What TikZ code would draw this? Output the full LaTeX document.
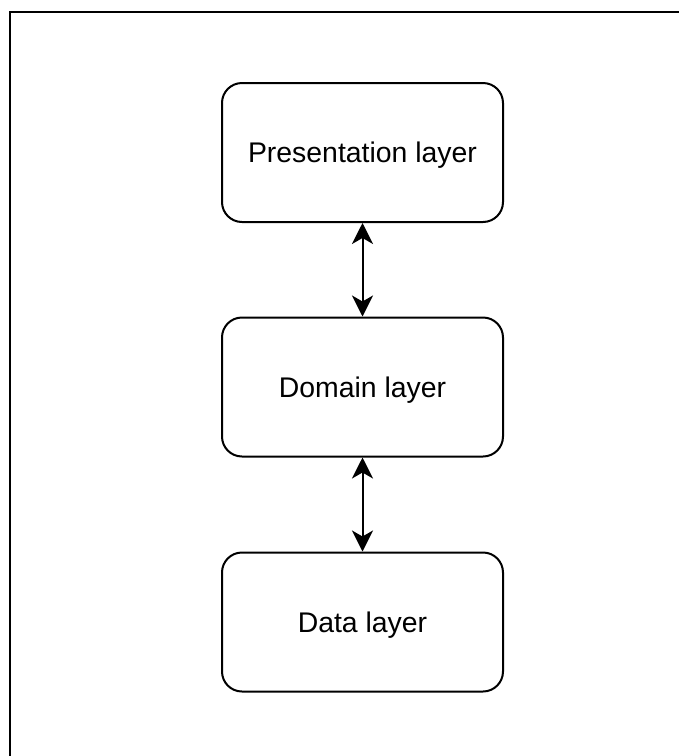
\documentclass[tikz,border=0pt]{standalone}
\usepackage{fontspec}
\setmainfont{Liberation Sans}
\usetikzlibrary{arrows.meta}
\begin{document}
\begin{tikzpicture}[x=1pt,y=-1pt,
  layer/.style={draw=black, line width=2pt, rounded corners=20pt, minimum width=281pt, minimum height=139pt, inner sep=0pt, text depth=0pt, font=\fontsize{28.4}{34}\selectfont},
  link/.style={line width=2pt, {Stealth[length=21pt,width=21pt,inset=6pt]}-{Stealth[length=21pt,width=21pt,inset=6pt]}}]
\useasboundingbox (0,0) rectangle (679,756);
\fill[white] (0,0) rectangle (679,756);
\coordinate (tl) at (10,12);
\coordinate (tr) at (679,12);
\coordinate (bl) at (10,756);
\draw[line width=2.5pt] (tr) -- (tl) -- (bl);
\node[layer] (pres) at (362.5,152.5) {Presentation layer};
\node[layer] (dom) at (362.5,387) {Domain layer};
\node[layer] (data) at (362.5,622) {Data layer};
\draw[link] (pres) -- (dom);
\draw[link] (dom) -- (data);
\end{tikzpicture}
\end{document}
